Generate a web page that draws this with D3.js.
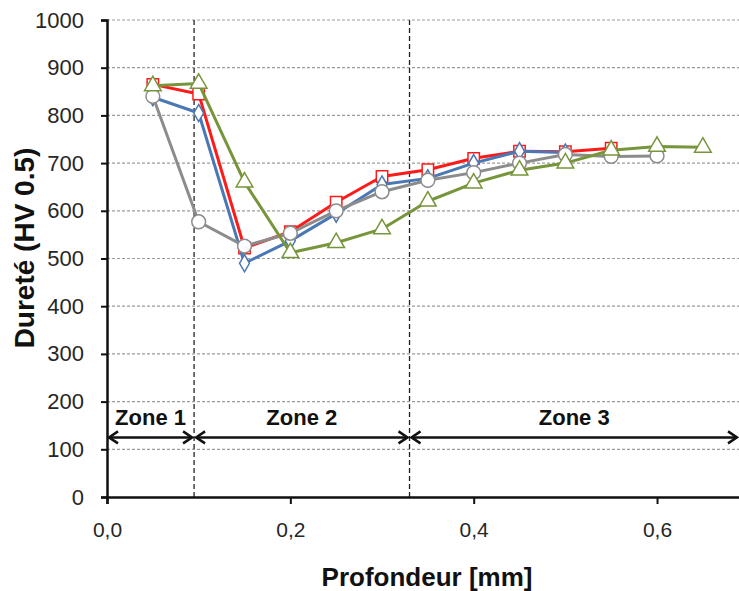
<!DOCTYPE html>
<html>
<head>
<meta charset="utf-8">
<script src="https://cdn.jsdelivr.net/npm/d3@7"></script>
<style>
  html, body { margin: 0; padding: 0; background: #fff; }
  svg { display: block; font-family: "Liberation Sans", Arial, sans-serif; }
</style>
</head>
<body>
<svg id="chart" width="739" height="591"></svg>
<script>
// Hardness profile versus depth, four measurement series
const depth = [0.05, 0.10, 0.15, 0.20, 0.25, 0.30, 0.35, 0.40, 0.45, 0.50, 0.55, 0.60, 0.65];
const redValues   = [865, 845, 522, 556, 618, 672, 686, 710, 725, 724, 731];
const blueValues  = [838, 805, 490, 537, 594, 655, 668, 700, 725, 722];
const grayValues  = [840, 577, 526, 553, 600, 640, 664, 680, 700, 718, 714, 715];
const greenValues = [862, 867, 660, 512, 533, 562, 620, 658, 685, 700, 727, 735, 733];

const xTicks = [0, 0.2, 0.4, 0.6];
const yTicks = [0, 100, 200, 300, 400, 500, 600, 700, 800, 900, 1000];

const zoneNames  = ["Zone 1", "Zone 2", "Zone 3"];
const zoneBounds = [0, 0.095, 0.33, 0.69];
const zoneArrowLevel = 125;

const svg = d3.select("#chart");
const W = 739, H = 591;

const x = d3.scaleLinear().domain([0, 0.7]).range([107, 748.7]);
const y = d3.scaleLinear().domain([0, 1000]).range([497, 20]);

// horizontal dashed grid
svg.append("g").selectAll("line").data(yTicks.filter(d => d > 0)).join("line")
  .attr("x1", x(0)).attr("x2", W)
  .attr("y1", d => y(d)).attr("y2", d => y(d))
  .attr("stroke", "#9c9c9c").attr("stroke-width", 1.2)
  .attr("stroke-dasharray", "3,2");

// zone boundaries
svg.append("g").selectAll("line").data(zoneBounds.slice(1, 3)).join("line")
  .attr("x1", d => x(d)).attr("x2", d => x(d))
  .attr("y1", y(1000)).attr("y2", y(0))
  .attr("stroke", "#222").attr("stroke-width", 1.3)
  .attr("stroke-dasharray", "5,3");

// y axis
const yAxis = svg.append("g").attr("transform", `translate(${x(0)},0)`)
  .call(d3.axisLeft(y).tickValues(yTicks).tickSize(6).tickPadding(17).tickFormat(d3.format("d")));
yAxis.select(".domain").attr("stroke", "#111").attr("stroke-width", 2.5);
yAxis.selectAll(".tick line").attr("stroke", "#111").attr("stroke-width", 2);
yAxis.selectAll(".tick text").attr("font-size", 22).attr("fill", "#262626")
  .attr("font-family", "Liberation Sans, Arial, sans-serif");

// x axis
const xAxis = svg.append("g").attr("transform", `translate(0,${y(0)})`)
  .call(d3.axisBottom(x).tickValues(xTicks).tickSize(7).tickPadding(18)
    .tickFormat(d => d3.format(".1f")(d).replace(".", ",")));
xAxis.select(".domain").attr("stroke", "#111").attr("stroke-width", 2.5);
xAxis.selectAll(".tick line").attr("stroke", "#111").attr("stroke-width", 2);
xAxis.selectAll(".tick text").attr("font-size", 21).attr("fill", "#262626")
  .attr("font-family", "Liberation Sans, Arial, sans-serif");

// zone arrows and labels
const ay = y(zoneArrowLevel);
const zones = svg.append("g");
zoneNames.forEach((name, i) => {
  const x0 = x(zoneBounds[i]) + 2, x1 = Math.min(x(zoneBounds[i + 1]), W) - 2;
  const g = zones.append("g");
  g.append("line").attr("x1", x0).attr("x2", x1).attr("y1", ay).attr("y2", ay)
    .attr("stroke", "#111").attr("stroke-width", 2.5);
  g.append("path").attr("d", `M${x0 + 9},${ay - 6}L${x0},${ay}L${x0 + 9},${ay + 6}`)
    .attr("fill", "none").attr("stroke", "#111").attr("stroke-width", 2.5);
  g.append("path").attr("d", `M${x1 - 9},${ay - 6}L${x1},${ay}L${x1 - 9},${ay + 6}`)
    .attr("fill", "none").attr("stroke", "#111").attr("stroke-width", 2.5);
  g.append("text").attr("x", (x0 + x1) / 2).attr("y", ay - 12)
    .attr("text-anchor", "middle").attr("font-size", 22).attr("font-weight", "bold")
    .attr("fill", "#111").text(name);
});

// series
const line = d3.line().x(d => x(d[0])).y(d => y(d[1]));
const series = [
  { values: redValues,   color: "#ff1a1a", shape: "square" },
  { values: blueValues,  color: "#4a78b4", shape: "diamond" },
  { values: grayValues,  color: "#8c8c8c", shape: "circle" },
  { values: greenValues, color: "#77953a", shape: "triangle" }
];
const symbolType = { square: d3.symbolSquare, diamond: d3.symbolDiamond, circle: d3.symbolCircle, triangle: d3.symbolTriangle };
const symbolSize = { square: 130, diamond: 85, circle: 150, triangle: 120 };

series.forEach(s => {
  const pts = s.values.map((v, i) => [depth[i], v]);
  const g = svg.append("g");
  g.append("path").datum(pts).attr("d", line)
    .attr("fill", "none").attr("stroke", s.color).attr("stroke-width", 3)
    .attr("stroke-linejoin", "round");
  g.selectAll("path.m").data(pts).join("path").attr("class", "m")
    .attr("transform", d => `translate(${x(d[0])},${y(d[1])})`)
    .attr("d", d3.symbol().type(symbolType[s.shape]).size(symbolSize[s.shape]))
    .attr("fill", "#fff").attr("stroke", s.color).attr("stroke-width", 1.5);
});

// axis titles
svg.append("text").attr("x", 427).attr("y", 586).attr("text-anchor", "middle")
  .attr("font-size", 26).attr("font-weight", "bold").attr("fill", "#111")
  .text("Profondeur [mm]");
svg.append("text").attr("transform", `translate(34,248) rotate(-90)`)
  .attr("text-anchor", "middle")
  .attr("font-size", 28).attr("font-weight", "bold").attr("fill", "#111")
  .text("Dureté (HV 0.5)");
</script>
</body>
</html>
